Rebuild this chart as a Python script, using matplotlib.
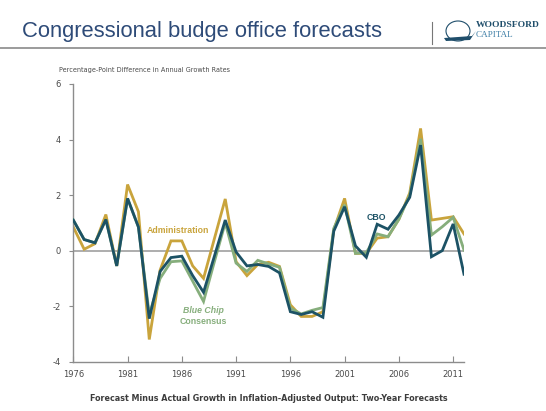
import numpy as np
import matplotlib
matplotlib.use("Agg")
import matplotlib.pyplot as plt
from matplotlib.patches import Ellipse, Polygon

# Data (percentage-point difference, forecast minus actual)
years = np.arange(1976, 2013)
admin = [0.85, 0.05, 0.25, 1.3, -0.55, 2.38, 1.4, -3.2, -0.7, 0.35, 0.35, -0.55,
         -1.0, 0.43, 1.86, -0.4, -0.9, -0.5, -0.42, -0.57, -1.95, -2.37, -2.37,
         -2.2, 0.75, 1.88, -0.1, -0.1, 0.45, 0.5, 1.13, 2.08, 4.4, 1.1, 1.16,
         1.22, 0.6]
cbo = [1.1, 0.4, 0.28, 1.12, -0.55, 1.88, 0.85, -2.45, -0.75, -0.25, -0.2, -0.9,
       -1.5, -0.2, 1.1, -0.05, -0.55, -0.5, -0.57, -0.8, -2.2, -2.3, -2.2, -2.4,
       0.7, 1.58, 0.17, -0.24, 0.95, 0.77, 1.28, 1.92, 3.8, -0.22, 0.0, 0.96,
       -0.85]
blue_chip = [1.1, 0.4, 0.28, 1.12, -0.55, 1.88, 0.85, -2.3, -1.0, -0.4, -0.37,
             -1.1, -1.83, -0.4, 1.0, -0.45, -0.75, -0.35, -0.48, -0.6, -2.07,
             -2.28, -2.15, -2.05, 0.8, 1.65, -0.1, -0.07, 0.6, 0.5, 1.13, 2.0,
             4.03, 0.56, 0.86, 1.2, 0.02]
xticks = [1976, 1981, 1986, 1991, 1996, 2001, 2006, 2011]
yticks = [-4, -2, 0, 2, 4, 6]

c_admin = "#C9A43C"
c_cbo = "#1C5265"
c_bc = "#86AE7C"
c_axis = "#8C8C8C"
c_text = "#4A4A4A"
lab_font = "Liberation Sans"

fig = plt.figure(figsize=(5.46, 4.11), dpi=100)
fig.patch.set_facecolor("white")

# header
fig.text(22 / 546, 1 - 32 / 411, "Congressional budge office forecasts",
         fontsize=15.8, color="#2E4B78", family="Liberation Sans",
         va="center", ha="left")
fig.add_artist(plt.Line2D([0, 1], [1 - 48 / 411] * 2, color="#8A8A8A", lw=1.2))
fig.add_artist(plt.Line2D([432 / 546] * 2, [1 - 22 / 411, 1 - 44 / 411],
                          color="#777777", lw=0.8))
# rough logo: turtle shell + text
fig.add_artist(Ellipse((458 / 546, 1 - 31 / 411), 24 / 546, 20 / 411,
                       facecolor="none", edgecolor="#1F4E6B", lw=0.8))
fig.add_artist(Polygon([[444 / 546, 1 - 38 / 411], [472 / 546, 1 - 36 / 411],
                        [476 / 546, 1 - 31 / 411], [470 / 546, 1 - 40 / 411],
                        [446 / 546, 1 - 41 / 411]],
                       closed=True, facecolor="#1F4E6B", edgecolor="none"))
fig.text(476 / 546, 1 - 25 / 411, "WOODSFORD", fontsize=6.8, color="#1F4E6B",
         family="Liberation Serif", weight="bold", va="center")
fig.text(476 / 546, 1 - 35 / 411, "CAPITAL", fontsize=6.6, color="#3E7FA6",
         family="Liberation Serif", va="center")

ax = fig.add_axes([73.3 / 546, 1 - 361.7 / 411, (464 - 73.3) / 546,
                   (361.7 - 84) / 411])
ax.axhline(0, color="#A0A0A0", lw=1.2, zorder=1)
ax.plot(years, admin, color=c_admin, lw=2.0, zorder=2, solid_joinstyle="miter")
ax.plot(years, blue_chip, color=c_bc, lw=2.0, zorder=3, solid_joinstyle="miter")
ax.plot(years, cbo, color=c_cbo, lw=2.0, zorder=4, solid_joinstyle="miter")

ax.set_xlim(1976, 2012)
ax.set_ylim(-4, 6)
ax.set_xticks(xticks)
ax.set_yticks(yticks)
ax.set_xticklabels([str(x) for x in xticks])
ax.set_yticklabels([str(y) for y in yticks])
for s in ["top", "right"]:
    ax.spines[s].set_visible(False)
for s in ["left", "bottom"]:
    ax.spines[s].set_color(c_axis)
    ax.spines[s].set_linewidth(1.0)
ax.tick_params(axis="x", direction="in", length=4, color=c_axis, labelsize=6,
               labelcolor=c_text, pad=6)
ax.tick_params(axis="y", direction="out", length=3, color=c_axis, labelsize=6,
               labelcolor=c_text, pad=6)

ax.text(1982.8, 0.71, "Administration", color=c_admin, fontsize=6.3,
        weight="bold", family=lab_font, ha="left", va="center")
ax.text(2003.9, 1.21, "CBO", color=c_cbo, fontsize=6.3, weight="bold",
        family=lab_font, ha="center", va="center")
ax.text(1988.0, -2.17, "Blue Chip", color=c_bc, fontsize=6.3, weight="bold",
        family=lab_font, style="italic", ha="center", va="center")
ax.text(1988.0, -2.56, "Consensus", color=c_bc, fontsize=6.3, weight="bold",
        family=lab_font, ha="center", va="center")

fig.text(59 / 546, 1 - 70 / 411, "Percentage-Point Difference in Annual Growth Rates",
         fontsize=4.7, color=c_text, ha="left", va="center")
fig.text(269 / 546, 1 - 398 / 411,
         "Forecast Minus Actual Growth in Inflation-Adjusted Output: Two-Year Forecasts",
         fontsize=5.8, weight="bold", color="#3C3C3C", ha="center", va="center")

fig.savefig("out.png", dpi=100)
